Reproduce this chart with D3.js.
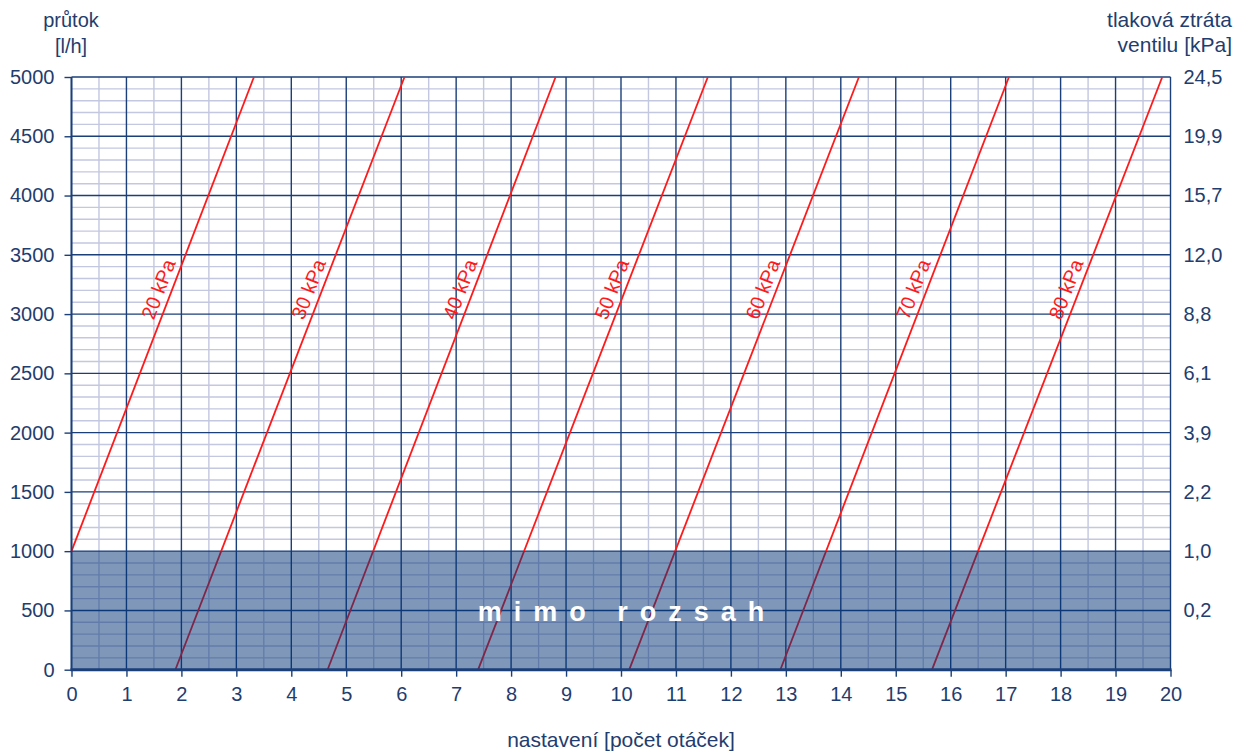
<!DOCTYPE html>
<html>
<head>
<meta charset="utf-8">
<script src="https://cdn.jsdelivr.net/npm/d3@7"></script>
<style>
  body { margin: 0; background: #fff; }
  text { font-family: "Liberation Sans", Arial, sans-serif; }
</style>
</head>
<body>
<svg width="1243" height="753"></svg>
<script>
// values
var settingTicks = d3.range(0, 21);           // nastavení 0..20
var flowTicks = [0, 500, 1000, 1500, 2000, 2500, 3000, 3500, 4000, 4500, 5000];
var pressureLabels = ['', '0,2', '1,0', '2,2', '3,9', '6,1', '8,8', '12,0', '15,7', '19,9', '24,5'];

var curveNames = ['20 kPa', '30 kPa', '40 kPa', '50 kPa', '60 kPa', '70 kPa', '80 kPa'];
var curveStartSetting = [0, 1.89, 4.66, 7.40, 10.15, 12.90, 15.66];
var curveStartFlow = [1000, 0, 0, 0, 0, 0, 0];
var curveEndSetting = [3.32, 6.06, 8.81, 11.58, 14.33, 17.06, 19.85];
var curveEndFlow = [5000, 5000, 5000, 5000, 5000, 5000, 5000];

var outOfRangeFlow = 1000;

var navy = '#1b3f78';
var textCol = '#1f3d6e';
var minorCol = '#c3c7df';

var svg = d3.select('svg');
var x = d3.scaleLinear().domain([0, 20]).range([71.5, 1170.5]);
var y = d3.scaleLinear().domain([0, 5000]).range([669.7, 77]);

// minor grid
svg.append('g').selectAll('line')
  .data(d3.range(0, 20.01, 0.5).filter(function(d) { return d % 1 !== 0; }))
  .enter().append('line')
  .attr('x1', function(d) { return x(d); }).attr('x2', function(d) { return x(d); })
  .attr('y1', y(0)).attr('y2', y(5000))
  .attr('stroke', minorCol).attr('stroke-width', 1.4);

svg.append('g').selectAll('line')
  .data(d3.range(0, 5001, 100).filter(function(d) { return d % 500 !== 0; }))
  .enter().append('line')
  .attr('x1', x(0)).attr('x2', x(20))
  .attr('y1', function(d) { return y(d); }).attr('y2', function(d) { return y(d); })
  .attr('stroke', minorCol).attr('stroke-width', 1.4);

// major grid
svg.append('g').selectAll('line')
  .data(settingTicks)
  .enter().append('line')
  .attr('x1', function(d) { return x(d); }).attr('x2', function(d) { return x(d); })
  .attr('y1', y(0)).attr('y2', y(5000))
  .attr('stroke', navy).attr('stroke-width', 1.4);

svg.append('g').selectAll('line')
  .data(flowTicks)
  .enter().append('line')
  .attr('x1', x(0)).attr('x2', x(20))
  .attr('y1', function(d) { return y(d); }).attr('y2', function(d) { return y(d); })
  .attr('stroke', navy).attr('stroke-width', 1.4);

// red curves
var curves = curveNames.map(function(n, i) {
  return { name: n,
    p0: [curveStartSetting[i], curveStartFlow[i]],
    p1: [curveEndSetting[i], curveEndFlow[i]] };
});

svg.append('g').selectAll('line')
  .data(curves)
  .enter().append('line')
  .attr('x1', function(d) { return x(d.p0[0]); })
  .attr('y1', function(d) { return y(d.p0[1]); })
  .attr('x2', function(d) { return x(d.p1[0]); })
  .attr('y2', function(d) { return y(d.p1[1]); })
  .attr('stroke', '#ff1a1a').attr('stroke-width', 1.8);

// labels along the curves
var labelFlow = 3170;
svg.append('g').selectAll('text')
  .data(curves)
  .enter().append('text')
  .attr('transform', function(d) {
    var t = (labelFlow - d.p0[1]) / (d.p1[1] - d.p0[1]);
    var s = d.p0[0] + t * (d.p1[0] - d.p0[0]);
    var ang = Math.atan2(y(d.p1[1]) - y(d.p0[1]), x(d.p1[0]) - x(d.p0[0])) * 180 / Math.PI;
    return 'translate(' + x(s) + ',' + y(labelFlow) + ') rotate(' + ang + ')';
  })
  .attr('dy', -6)
  .attr('text-anchor', 'middle')
  .attr('fill', '#ff1a1a')
  .style('font-size', '20px')
  .text(function(d) { return d.name; });

// out of range area
svg.append('rect')
  .attr('x', x(0)).attr('y', y(outOfRangeFlow))
  .attr('width', x(20) - x(0)).attr('height', y(0) - y(outOfRangeFlow))
  .attr('fill', 'rgb(0,50,118)').attr('fill-opacity', 0.5);

svg.append('text')
  .attr('x', x(10) + 6).attr('y', 621)
  .attr('text-anchor', 'middle')
  .attr('fill', '#fff')
  .style('font-size', '27px').style('font-weight', 'bold')
  .style('letter-spacing', '12px')
  .text('mimo rozsah');

// axes
var xAxis = svg.append('g')
  .attr('transform', 'translate(0,' + y(0) + ')')
  .call(d3.axisBottom(x).tickValues(settingTicks).tickSize(7).tickPadding(10).tickFormat(d3.format('d')));
var yAxis = svg.append('g')
  .attr('transform', 'translate(' + x(0) + ',0)')
  .call(d3.axisLeft(y).tickValues(flowTicks).tickSize(7).tickPadding(10).tickFormat(d3.format('d')));
var yAxisR = svg.append('g')
  .attr('transform', 'translate(' + x(20) + ',0)')
  .call(d3.axisRight(y).tickValues(flowTicks).tickSize(0).tickPadding(13)
    .tickFormat(function(d, i) { return pressureLabels[i]; }));

[xAxis, yAxis, yAxisR].forEach(function(a) {
  a.select('.domain').remove();
  a.selectAll('line').attr('stroke', navy).attr('stroke-width', 1.4);
  a.selectAll('text').attr('fill', textCol).style('font-size', '20px')
    .style('font-family', '"Liberation Sans", Arial, sans-serif');
});

// frame lines
svg.append('line')
  .attr('x1', x(0) - 1).attr('x2', x(20) + 1).attr('y1', y(0)).attr('y2', y(0))
  .attr('stroke', navy).attr('stroke-width', 3);
svg.append('line')
  .attr('x1', x(0)).attr('x2', x(0)).attr('y1', y(0)).attr('y2', y(5000))
  .attr('stroke', navy).attr('stroke-width', 1.8);

// titles
svg.append('text').attr('x', 71).attr('y', 27).attr('text-anchor', 'middle')
  .attr('fill', textCol).style('font-size', '20px').text('průtok');
svg.append('text').attr('x', 71).attr('y', 53).attr('text-anchor', 'middle')
  .attr('fill', textCol).style('font-size', '20px').text('[l/h]');
svg.append('text').attr('x', 1232).attr('y', 27).attr('text-anchor', 'end')
  .attr('fill', textCol).style('font-size', '21px').text('tlaková ztráta');
svg.append('text').attr('x', 1232).attr('y', 52).attr('text-anchor', 'end')
  .attr('fill', textCol).style('font-size', '21px').text('ventilu [kPa]');
svg.append('text').attr('x', x(10)).attr('y', 747).attr('text-anchor', 'middle')
  .attr('fill', textCol).style('font-size', '21px').text('nastavení [počet otáček]');
</script>
</body>
</html>
